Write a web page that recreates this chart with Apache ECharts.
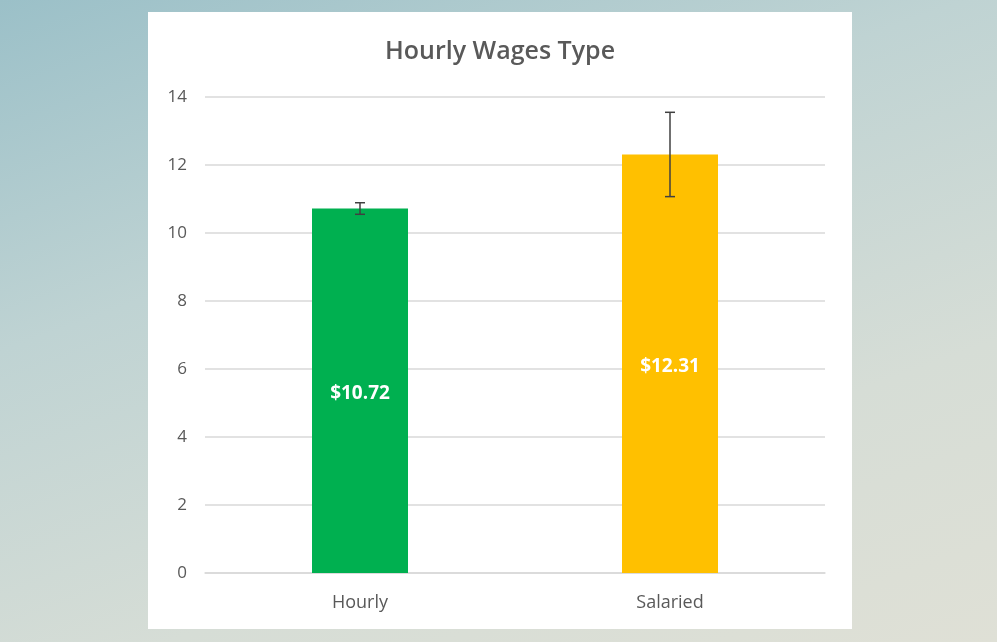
<!DOCTYPE html>
<html>
<head>
<meta charset="utf-8">
<script src="https://cdn.jsdelivr.net/npm/echarts@6/dist/echarts.min.js"></script>
<style>
    html,body{margin:0;padding:0;width:997px;height:642px;overflow:hidden;}
    body{background:linear-gradient(160deg,#9bc0c8 0%,#bfd3d3 35%,#d6ddd6 70%,#dfe0d6 100%);}
    #panel{position:absolute;left:148px;top:12px;width:704px;height:617px;background:#fff;}
</style>
</head>
<body>
<div id="panel"></div>
<script>
var categories = ["Hourly", "Salaried"];
var wages = [10.72, 12.31];
var errLow = [10.55, 11.07];
var errHigh = [10.89, 13.55];
var barColors = ["#00b050", "#ffc000"];
var yTicks = [0, 2, 4, 6, 8, 10, 12, 14];

var app = {
    init : function(){
        var dom = document.getElementById("panel");
        var myChart = echarts.init(dom, null, {renderer: "canvas"});
        var errData = [];
        for (var i = 0; i < categories.length; i++) {
            errData.push([i, errLow[i], errHigh[i]]);
        }
        var option = {
            animation: false,
            title: {
                text: "Hourly Wages Type",
                left: "center",
                top: 22,
                textStyle: {
                    color: "#595959",
                    fontFamily: "Open Sans",
                    fontWeight: 600,
                    fontSize: 25
                }
            },
            grid: {
                left: 57,
                right: 27,
                top: 85,
                bottom: 56
            },
            xAxis: {
                type: "category",
                data: categories,
                axisLine: {lineStyle: {color: "#d9d9d9", width: 1.5}},
                axisTick: {show: false},
                axisLabel: {
                    color: "#595959",
                    fontFamily: "Open Sans",
                    fontSize: 18,
                    margin: 21
                }
            },
            yAxis: {
                type: "value",
                min: yTicks[0],
                max: yTicks[yTicks.length - 1],
                interval: 2,
                axisLine: {show: false},
                axisTick: {show: false},
                axisLabel: {
                    color: "#595959",
                    fontFamily: "Open Sans",
                    fontSize: 17,
                    margin: 18
                },
                splitLine: {lineStyle: {color: "#d9d9d9", width: 1.5}}
            },
            series: [
                {
                    type: "bar",
                    barWidth: 96,
                    data: wages.map(function(v, i){
                        return {value: v, itemStyle: {color: barColors[i]}};
                    }),
                    label: {
                        show: true,
                        position: "inside",
                        offset: [0, 3],
                        color: "#fff",
                        fontFamily: "Open Sans",
                        fontWeight: "bold",
                        fontSize: 19,
                        formatter: function(p){ return "$" + p.value.toFixed(2); }
                    }
                },
                {
                    type: "custom",
                    data: errData,
                    z: 10,
                    renderItem: function(params, api){
                        var x = api.value(0);
                        var lo = api.coord([x, api.value(1)]);
                        var hi = api.coord([x, api.value(2)]);
                        var half = 5;
                        var style = {stroke: "#404040", lineWidth: 1.5};
                        return {
                            type: "group",
                            children: [
                                {type: "line", shape: {x1: hi[0], y1: hi[1], x2: lo[0], y2: lo[1]}, style: style},
                                {type: "line", shape: {x1: hi[0] - half, y1: hi[1], x2: hi[0] + half, y2: hi[1]}, style: style},
                                {type: "line", shape: {x1: lo[0] - half, y1: lo[1], x2: lo[0] + half, y2: lo[1]}, style: style}
                            ]
                        };
                    }
                }
            ]
        };
        myChart.setOption(option, true);
    }
};

app.init();
</script>
</body>
</html>
